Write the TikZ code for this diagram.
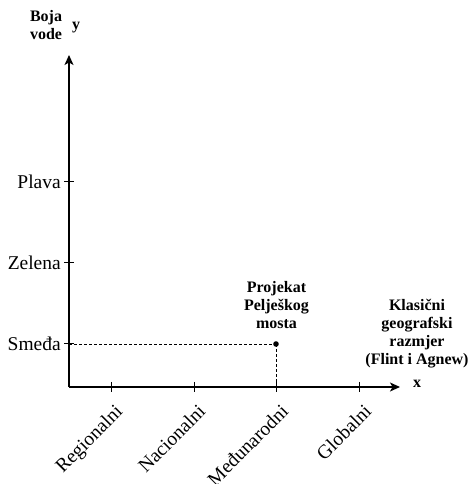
\documentclass[tikz,border=0pt]{standalone}
\usepackage{fontspec}
\setmainfont{Liberation Serif}
\usetikzlibrary{arrows.meta}
\begin{document}
\begin{tikzpicture}[x=1pt,y=1pt,
  axis/.style={line width=1.2pt,-{Stealth[length=10pt,width=9pt,inset=2.5pt]}},
  tickln/.style={line width=1pt},
  guide/.style={line width=0.8pt,dash pattern=on 3pt off 2pt},
  ylab/.style={anchor=east,inner sep=0pt,font=\fontsize{19.5}{21}\selectfont},
  xlab/.style={anchor=north east,rotate=45,inner sep=0pt,font=\fontsize{19.5}{21}\selectfont},
  blab/.style={align=center,anchor=base,inner sep=0pt,font=\fontsize{16}{18}\selectfont\bfseries}]
\useasboundingbox (0,0) rectangle (470,484);
\coordinate (O) at (69,97);
\coordinate (Ytop) at (69,429);
\coordinate (Xend) at (400,97);
\draw[axis] (O) -- (Ytop);
\draw[axis] (O) -- (Xend);
% x ticks
\foreach \n/\xx in {t1/111,t2/194,t3/276,t4/359}{
  \coordinate (\n) at (\xx,97);
  \draw[tickln] ([yshift=5pt]\n) -- ([yshift=-5pt]\n);
}
% y ticks
\foreach \n/\yy in {s1/140,s2/221,s3/302}{
  \coordinate (\n) at (69,\yy);
  \draw[tickln] ([xshift=-5pt]\n) -- ([xshift=5pt]\n);
}
\node[ylab] (smeda) at (61,140) {Smeđa};
\node[ylab] (zelena) at (61,221) {Zelena};
\node[ylab] (plava) at (61,302) {Plava};
\node[xlab] (reg) at (114,81) {Regionalni};
\node[xlab] (nac) at (197,81) {Nacionalni};
\node[xlab] (med) at (280,81) {Međunarodni};
\node[xlab] (glo) at (363,81) {Globalni};
% point
\coordinate (P) at (276,140);
\draw[guide] (s1) -- (P);
\draw[guide] (P) -- (t3);
\fill (P) circle (2.8pt);
\node[blab] (proj) at (276.5,155) {Projekat\\Pelješkog\\mosta};
\node[blab] (klas) at (417,119) {Klasični\\geografski\\razmjer\\(Flint i Agnew)};
\node[blab] (xl) at (417,96) {x};
\node[blab] (yl) at (76,454) {y};
\node[blab] (boja) at (46,444) {Boja\\vode};
\end{tikzpicture}
\end{document}
